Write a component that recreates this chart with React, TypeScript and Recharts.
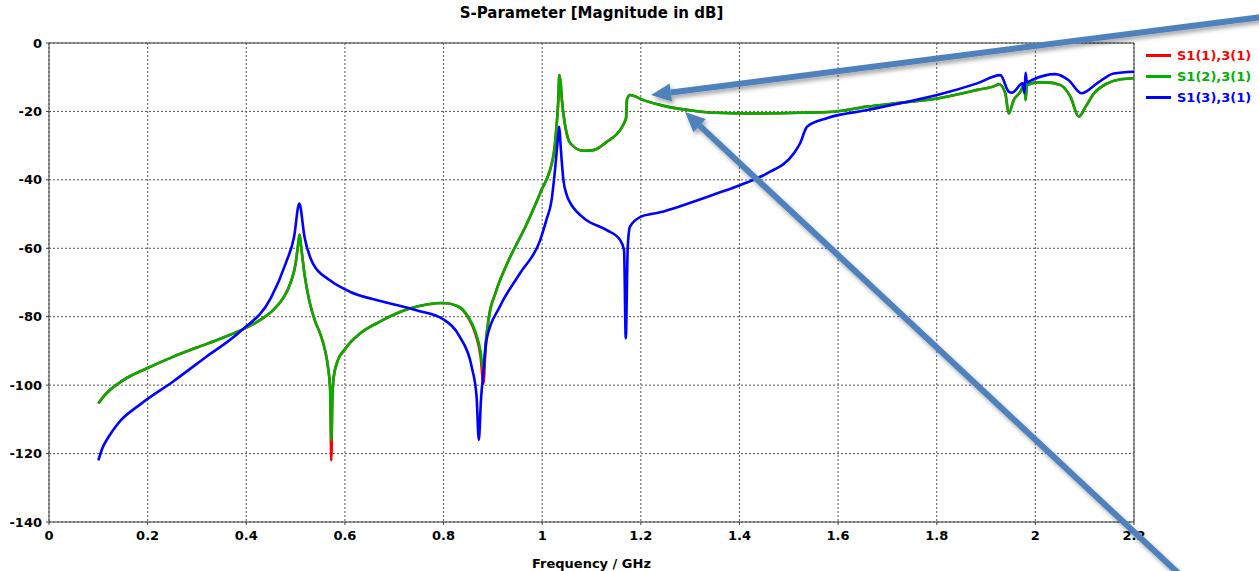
import { LineChart, Line, XAxis, YAxis, CartesianGrid, ReferenceLine } from 'recharts';

// frequency grid shared by S1(1),3(1) and S1(2),3(1), in GHz
const rgFreq = [
  0.1, 0.115, 0.15, 0.2, 0.25, 0.3, 0.35, 0.4, 0.43, 0.455, 0.475, 0.49, 0.5, 0.505, 0.508,
  0.512, 0.518, 0.528, 0.54, 0.55, 0.56, 0.566, 0.57, 0.5725, 0.5745, 0.577, 0.585, 0.6, 0.63, 0.67,
  0.73, 0.8, 0.83, 0.85, 0.865, 0.875, 0.881, 0.885, 0.892, 0.905, 0.932, 0.966, 0.997, 1.0225,
  1.029, 1.0327, 1.0347, 1.0375, 1.04, 1.047, 1.057, 1.084, 1.104, 1.131, 1.16, 1.168, 1.17, 1.172,
  1.178, 1.205, 1.253, 1.307, 1.35, 1.421, 1.523, 1.591, 1.659, 1.726, 1.801, 1.882, 1.922, 1.926,
  1.939, 1.946, 1.956, 1.97, 1.978, 1.98, 1.983, 2.004, 2.024, 2.051, 2.071, 2.088, 2.102, 2.119,
  2.146, 2.173, 2.2,
];

const s11Db = [
  -105.3, -102.6, -98.6, -95.0, -91.8, -89.0, -86.3, -83.2, -80.8, -78.0, -74.5, -70.0, -64.5, -59.0, -56.0,
  -60.5, -67.5, -75.5, -81.5, -85.0, -90.0, -95.0, -101.0, -122.0, -104.0, -98.0, -93.0, -89.5, -85.0, -81.5,
  -77.7, -76.0, -77.0, -80.3, -85.2, -91.5, -99.5, -90.0, -80.0, -73.2, -63.5, -53.7, -43.5, -33.2,
  -24.5, -16.7, -9.4, -11.8, -16.7, -24.5, -29.3, -31.5, -31.3, -28.9, -25.0, -22.8, -22.0, -16.5,
  -15.2, -16.7, -18.6, -19.8, -20.4, -20.6, -20.4, -20.1, -18.6, -17.5, -16.2, -13.7, -12.3, -12.0,
  -14.7, -20.6, -16.7, -14.2, -11.8, -16.7, -12.3, -11.5, -11.5, -12.3, -15.7, -21.5, -18.6, -14.7,
  -11.8, -10.6, -10.3,
];

const s12Db = [
  -105.3, -102.6, -98.6, -95.0, -91.8, -89.0, -86.3, -83.2, -80.8, -78.0, -74.5, -70.0, -64.5, -59.0, -56.0,
  -60.5, -67.5, -75.5, -81.5, -85.0, -90.0, -95.0, -101.0, -116.0, -104.0, -98.0, -93.0, -89.5, -85.0, -81.5,
  -77.7, -76.0, -77.0, -80.0, -84.5, -90.0, -96.0, -88.0, -80.0, -73.2, -63.5, -53.7, -43.5, -33.2,
  -24.5, -16.7, -9.4, -11.8, -16.7, -24.5, -29.3, -31.5, -31.3, -28.9, -25.0, -22.8, -22.0, -16.5,
  -15.2, -16.7, -18.6, -19.8, -20.4, -20.6, -20.4, -20.1, -18.6, -17.5, -16.2, -13.7, -12.3, -12.0,
  -14.7, -20.6, -16.7, -14.2, -11.8, -16.7, -12.3, -11.5, -11.5, -12.3, -15.7, -21.5, -18.6, -14.7,
  -11.8, -10.6, -10.3,
];

// S1(3),3(1)
const bFreq = [
  0.1, 0.108, 0.12, 0.14, 0.187, 0.251, 0.319, 0.387, 0.45, 0.48, 0.497, 0.5075, 0.518, 0.535, 0.569,
  0.61, 0.678, 0.745, 0.8, 0.833, 0.857, 0.867, 0.8715, 0.876, 0.8805, 0.887, 0.914, 0.955, 0.996,
  1.009, 1.019, 1.026, 1.033, 1.0347, 1.0375, 1.043, 1.05, 1.056, 1.07, 1.09, 1.131, 1.158, 1.166, 1.1695,
  1.1735, 1.178, 1.1995, 1.239, 1.286, 1.354, 1.402, 1.456, 1.51, 1.523, 1.537, 1.577, 1.659, 1.726,
  1.801, 1.882, 1.929, 1.946, 1.953, 1.974, 1.978, 1.98, 1.983, 1.993, 2.04, 2.067, 2.094, 2.125,
  2.159, 2.2,
];

const s13Db = [
  -122.0, -118.5, -115.3, -111.2, -105.4, -99.0, -91.7, -84.4, -74.5, -64.4, -56.6, -46.9, -56.6, -64.4, -69.3,
  -72.7, -75.6, -78.1, -80.8, -85.9, -94.6, -103.4, -116.0, -104.0, -96.6, -86.8, -77.1, -67.3, -57.6,
  -51.5, -46.0, -37.1, -26.4, -24.5, -30.3, -40.0, -44.5, -46.5, -49.3, -51.8, -54.7, -57.6, -60.5, -86.3,
  -59.6, -53.7, -50.8, -49.5, -47.4, -44.0, -41.5, -38.1, -32.3, -29.3, -24.5, -22.0, -19.6, -17.6,
  -15.2, -11.8, -9.4, -14.2, -14.5, -11.8, -14.7, -8.7, -11.5, -10.8, -9.1, -10.8, -14.7, -11.8,
  -8.9, -8.4,
];

const xTicks = [0, 0.2, 0.4, 0.6, 0.8, 1, 1.2, 1.4, 1.6, 1.8, 2, 2.2];
const yTicks = [0, -20, -40, -60, -80, -100, -120, -140];

const seriesNames = ['S1(1),3(1)', 'S1(2),3(1)', 'S1(3),3(1)'];
const seriesColors = ['#ff0000', '#00b000', '#0000ff'];

const font = '"DejaVu Sans", Verdana, sans-serif';
const tickStyle = { fill: '#000', fontSize: 13, fontWeight: 'bold', fontFamily: font };

const redData = rgFreq.map((f, i) => ({ f, db: s11Db[i] }));
const greenData = rgFreq.map((f, i) => ({ f, db: s12Db[i] }));
const blueData = bFreq.map((f, i) => ({ f, db: s13Db[i] }));

const fmt = (v: number) => String(Math.round(v * 10) / 10);

const Arrow = ({ x1, y1, x2, y2 }: { x1: number; y1: number; x2: number; y2: number }) => {
  const dx = x2 - x1;
  const dy = y2 - y1;
  const len = Math.sqrt(dx * dx + dy * dy);
  const ux = dx / len;
  const uy = dy / len;
  const bx = x2 - ux * 20;
  const by = y2 - uy * 20;
  const nx = -uy * 9;
  const ny = ux * 9;
  return (
    <g filter="url(#shadow)">
      <line x1={x1} y1={y1} x2={bx} y2={by} stroke="#4f81bd" strokeWidth={6} />
      <polygon points={`${x2},${y2} ${bx + nx},${by + ny} ${bx - nx},${by - ny}`} fill="#4f81bd" />
    </g>
  );
};

export default function App() {
  return (
    <div style={{ position: 'absolute', left: 0, top: 0, width: 1259, height: 571, background: '#fff', fontFamily: font }}>
      <div
        style={{
          position: 'absolute', left: 49, width: 1085, top: 4, textAlign: 'center',
          fontSize: 15, fontWeight: 'bold', color: '#000',
        }}
      >
        S-Parameter [Magnitude in dB]
      </div>
      <LineChart width={1259} height={571} margin={{ top: 43, right: 125, bottom: 0, left: 0 }}>
        <CartesianGrid stroke="#555" strokeDasharray="2 2" />
        <XAxis
          dataKey="f"
          type="number"
          domain={[0, 2.2]}
          ticks={xTicks}
          tickFormatter={fmt}
          allowDataOverflow
          height={49}
          stroke="#404040"
          tickSize={3}
          tickMargin={6}
          tick={tickStyle}
          label={{ value: 'Frequency / GHz', position: 'insideBottom', offset: 3, style: { ...tickStyle } }}
        />
        <YAxis
          type="number"
          domain={[-140, 0]}
          ticks={yTicks}
          width={49}
          stroke="#404040"
          tickSize={3}
          tickMargin={4}
          tick={tickStyle}
        />
        <ReferenceLine y={0} stroke="#404040" />
        <ReferenceLine x={2.2} stroke="#404040" />
        <Line data={redData} dataKey="db" type="monotone" stroke={seriesColors[0]} strokeWidth={2.6} dot={false} isAnimationActive={false} />
        <Line data={greenData} dataKey="db" type="monotone" stroke={seriesColors[1]} strokeWidth={2.6} dot={false} isAnimationActive={false} />
        <Line data={blueData} dataKey="db" type="monotone" stroke={seriesColors[2]} strokeWidth={2.6} dot={false} isAnimationActive={false} />
      </LineChart>
      <div style={{ position: 'absolute', left: 1146, top: 45 }}>
        {seriesNames.map((name, i) => (
          <div key={name} style={{ display: 'flex', alignItems: 'center', height: 21 }}>
            <span style={{ display: 'inline-block', width: 25, height: 3, background: seriesColors[i], marginRight: 6 }} />
            <span style={{ color: seriesColors[i], fontSize: 13, fontWeight: 'bold' }}>{name}</span>
          </div>
        ))}
      </div>
      <svg width={1259} height={571} style={{ position: 'absolute', left: 0, top: 0, pointerEvents: 'none' }}>
        <defs>
          <filter id="shadow" x="-10%" y="-10%" width="120%" height="130%">
            <feDropShadow dx={2} dy={3} stdDeviation={2} floodColor="#000" floodOpacity={0.35} />
          </filter>
        </defs>
        <Arrow x1={1262} y1={17} x2={651} y2={95} />
        <Arrow x1={1178} y1={573} x2={685} y2={112} />
      </svg>
    </div>
  );
}
